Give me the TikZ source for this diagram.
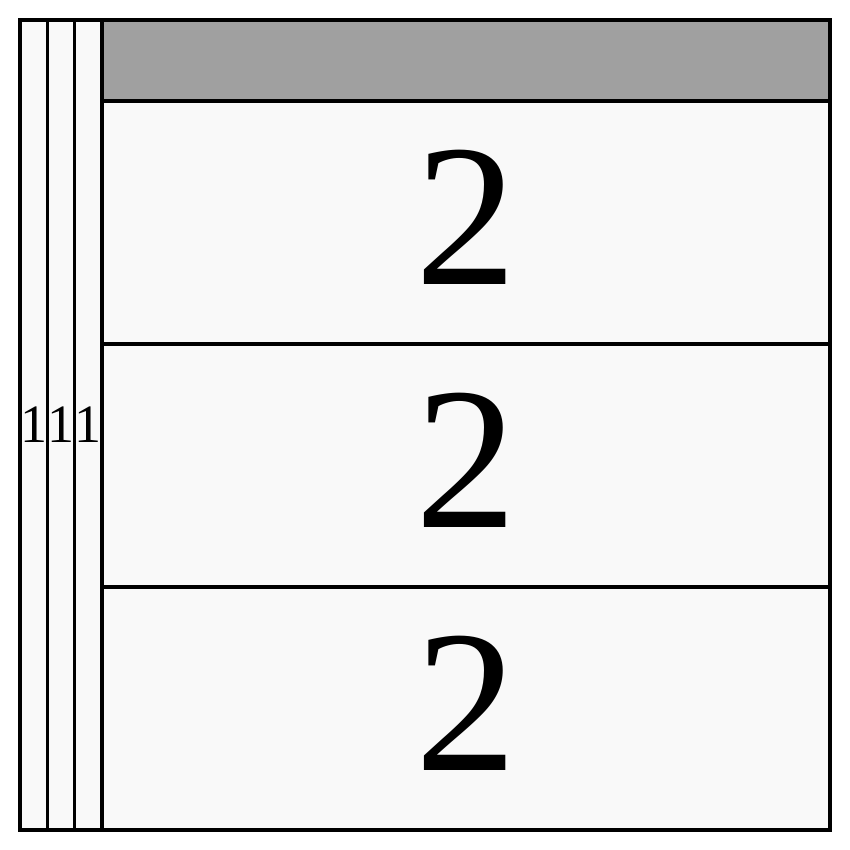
\documentclass[tikz,border=0pt]{standalone}
\usepackage{fontspec}
\setmainfont{Liberation Serif}
\usetikzlibrary{positioning}
\definecolor{cellfill}{HTML}{F9F9F9}
\definecolor{bandfill}{HTML}{A0A0A0}
\tikzset{
  cell/.style={draw=black, line width=3.5pt, fill=cellfill, inner sep=0pt, outer sep=0pt},
  thincol/.style={cell, minimum width=27.33pt, minimum height=810pt, font=\fontsize{54}{54}\selectfont},
  bigrow/.style={cell, minimum width=728pt, minimum height=243pt, text depth=10pt, font=\fontsize{203}{203}\selectfont},
}
\begin{document}
\begin{tikzpicture}[x=1pt, y=-1pt]
  \useasboundingbox (0,0) rectangle (850,850);
  % narrow columns on the left
  \node[thincol, anchor=north west] (col1) at (20,20) {1};
  \node[thincol, right=0pt of col1] (col2) {1};
  \node[thincol, right=0pt of col2] (col3) {1};
  % grey header band
  \node[cell, fill=bandfill, minimum width=728pt, minimum height=81pt, anchor=north west] (band) at (col3.north east) {};
  % rows
  \node[bigrow, below=0pt of band] (row1) {2};
  \node[bigrow, below=0pt of row1] (row2) {2};
  \node[bigrow, below=0pt of row2] (row3) {2};
\end{tikzpicture}
\end{document}
